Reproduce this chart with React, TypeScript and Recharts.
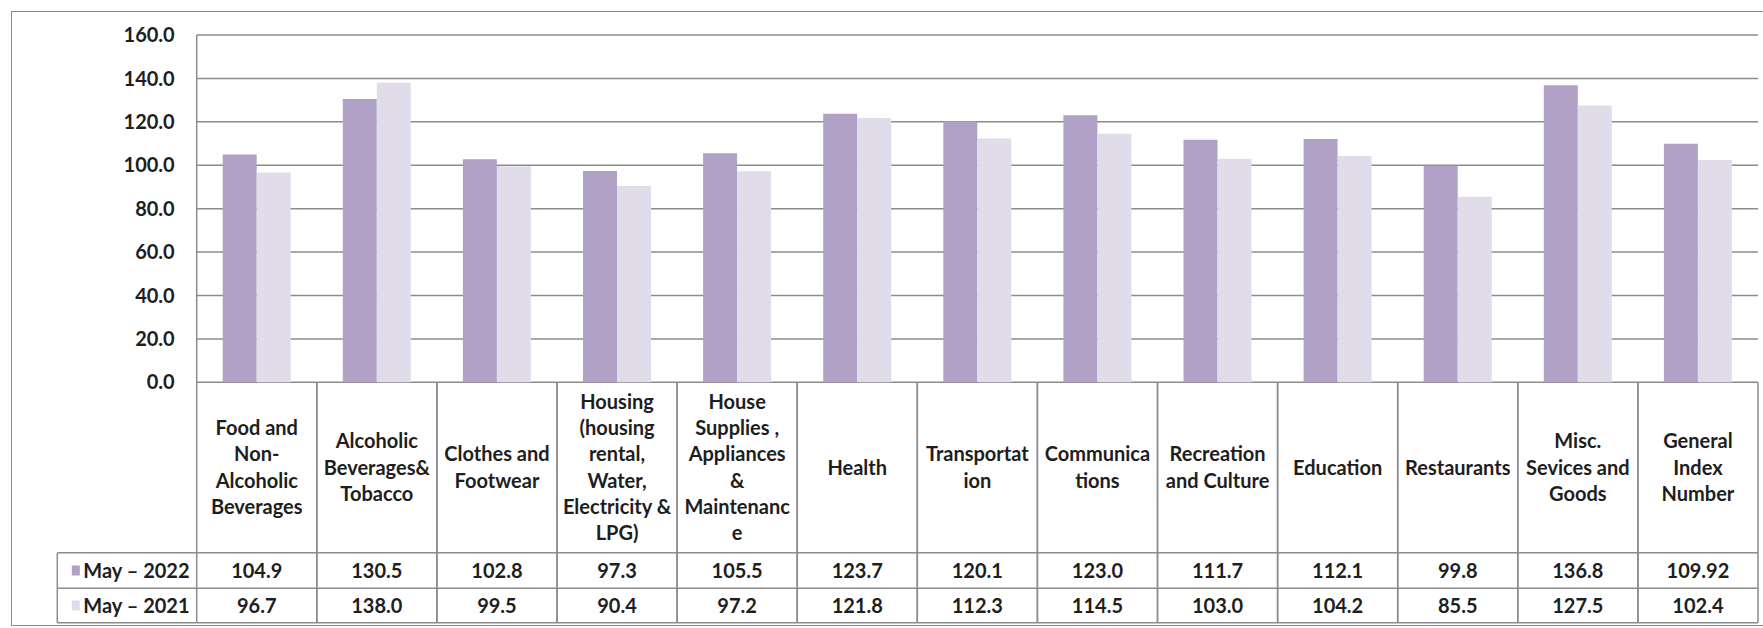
import { BarChart, Bar, XAxis, YAxis, CartesianGrid } from 'recharts';

const categories = [
  'Food and\nNon-\nAlcoholic\nBeverages',
  'Alcoholic\nBeverages&\nTobacco',
  'Clothes and\nFootwear',
  'Housing\n(housing\nrental,\nWater,\nElectricity &\nLPG)',
  'House\nSupplies ,\nAppliances\n&\nMaintenanc\ne',
  'Health',
  'Transportat\nion',
  'Communica\ntions',
  'Recreation\nand Culture',
  'Education',
  'Restaurants',
  'Misc.\nSevices and\nGoods',
  'General\nIndex\nNumber',
];

const may2022 = [104.9, 130.5, 102.8, 97.3, 105.5, 123.7, 120.1, 123.0, 111.7, 112.1, 99.8, 136.8, 109.92];
const may2021 = [96.7, 138.0, 99.5, 90.4, 97.2, 121.8, 112.3, 114.5, 103.0, 104.2, 85.5, 127.5, 102.4];

const seriesNames = ['May – 2022', 'May – 2021'];
const yTicks = [0, 20, 40, 60, 80, 100, 120, 140, 160];

const W = 1763;
const H = 628;
const PLOT_LEFT = 196.7;
const PLOT_RIGHT = 1758;
const PLOT_TOP = 35;
const AXIS_Y = 382.3;
const HEADER_BOTTOM = 552.7;
const ROW1_BOTTOM = 588.3;
const ROW2_BOTTOM = 622.7;
const LEGEND_LEFT = 57.3;
const LINE_H = 26.3;

const DARK = '#b1a1c7';
const LIGHT = '#e1dcea';
const GRID = '#8c8c8c';
const TEXT = '#1e1e1e';
const FONT = 'Lato, "Open Sans", sans-serif';

const data = categories.map((name, i) => ({
  name,
  y2022: may2022[i],
  y2021: may2021[i],
}));

function fmt(v: number) {
  return Math.abs(Math.round(v * 10) - v * 10) < 1e-6 ? v.toFixed(1) : String(v);
}

const textStyle = { fontFamily: FONT, fontWeight: 700, fontSize: 20, fill: TEXT };

function CategoryCell(props: any) {
  const { x, payload, index } = props;
  const i = typeof index === 'number' ? index : payload.index;
  const cw = (PLOT_RIGHT - PLOT_LEFT) / categories.length;
  const left = x - cw / 2;
  const right = x + cw / 2;
  const lines = String(payload.value).split('\n');
  const midY = (AXIS_Y + HEADER_BOTTOM) / 2;
  const r1 = (HEADER_BOTTOM + ROW1_BOTTOM) / 2;
  const r2 = (ROW1_BOTTOM + ROW2_BOTTOM) / 2;
  return (
    <g>
      <line x1={left} x2={left} y1={AXIS_Y} y2={ROW2_BOTTOM} stroke={GRID} strokeWidth={1.5} />
      <line x1={right} x2={right} y1={AXIS_Y} y2={ROW2_BOTTOM} stroke={GRID} strokeWidth={1.5} />
      <line x1={left} x2={right} y1={HEADER_BOTTOM} y2={HEADER_BOTTOM} stroke={GRID} strokeWidth={1.5} />
      <line x1={left} x2={right} y1={ROW1_BOTTOM} y2={ROW1_BOTTOM} stroke={GRID} strokeWidth={1.5} />
      <line x1={left} x2={right} y1={ROW2_BOTTOM} y2={ROW2_BOTTOM} stroke={GRID} strokeWidth={1.5} />
      {lines.map((ln, k) => (
        <text
          key={k}
          x={x}
          y={midY + (k - (lines.length - 1) / 2) * LINE_H}
          dy="0.35em"
          textAnchor="middle"
          style={textStyle}
        >
          {ln}
        </text>
      ))}
      <text x={x} y={r1} dy="0.35em" textAnchor="middle" style={textStyle}>
        {fmt(may2022[i])}
      </text>
      <text x={x} y={r2} dy="0.35em" textAnchor="middle" style={textStyle}>
        {fmt(may2021[i])}
      </text>
      {i === 0 && (
        <g>
          <line x1={LEGEND_LEFT} x2={left} y1={HEADER_BOTTOM} y2={HEADER_BOTTOM} stroke={GRID} strokeWidth={1.5} />
          <line x1={LEGEND_LEFT} x2={left} y1={ROW1_BOTTOM} y2={ROW1_BOTTOM} stroke={GRID} strokeWidth={1.5} />
          <line x1={LEGEND_LEFT} x2={left} y1={ROW2_BOTTOM} y2={ROW2_BOTTOM} stroke={GRID} strokeWidth={1.5} />
          <line x1={LEGEND_LEFT} x2={LEGEND_LEFT} y1={HEADER_BOTTOM} y2={ROW2_BOTTOM} stroke={GRID} strokeWidth={1.5} />
          <rect x={LEGEND_LEFT + 14.5} y={r1 - 5} width={8} height={10} fill={DARK} />
          <rect x={LEGEND_LEFT + 14.5} y={r2 - 5} width={8} height={10} fill={LIGHT} />
          <text x={LEGEND_LEFT + 26} y={r1} dy="0.35em" style={textStyle}>
            {seriesNames[0]}
          </text>
          <text x={LEGEND_LEFT + 26} y={r2} dy="0.35em" style={textStyle}>
            {seriesNames[1]}
          </text>
        </g>
      )}
    </g>
  );
}

export default function App() {
  return (
    <div
      style={{
        position: 'absolute',
        left: 0,
        top: 0,
        width: W,
        height: H,
        background: '#fff',
        fontFamily: FONT,
      }}
    >
      <div
        style={{
          position: 'absolute',
          left: 11,
          top: 11,
          width: W,
          height: 615,
          border: '1.5px solid #8c8c8c',
          boxSizing: 'border-box',
        }}
      />
      <BarChart
        width={W}
        height={H}
        data={data}
        margin={{ top: PLOT_TOP, right: W - PLOT_RIGHT, left: 0, bottom: 0 }}
        barCategoryGap={26}
        barGap={0}
        style={{ position: 'absolute', left: 0, top: 0 }}
      >
        <CartesianGrid vertical={false} stroke={GRID} strokeWidth={1.5} />
        <XAxis
          dataKey="name"
          interval={0}
          height={H - AXIS_Y}
          tickLine={false}
          axisLine={false}
          tickSize={0}
          tickMargin={0}
          tick={(p: any) => <CategoryCell {...p} />}
        />
        <YAxis
          domain={[0, 160]}
          ticks={yTicks}
          width={PLOT_LEFT}
          tickLine={false}
          tickSize={0}
          tickMargin={22}
          axisLine={{ stroke: GRID, strokeWidth: 1.5 }}
          tickFormatter={(v: number) => v.toFixed(1)}
          tick={textStyle}
        />
        <Bar dataKey="y2022" name={seriesNames[0]} fill={DARK} isAnimationActive={false} />
        <Bar dataKey="y2021" name={seriesNames[1]} fill={LIGHT} isAnimationActive={false} />
      </BarChart>
    </div>
  );
}
